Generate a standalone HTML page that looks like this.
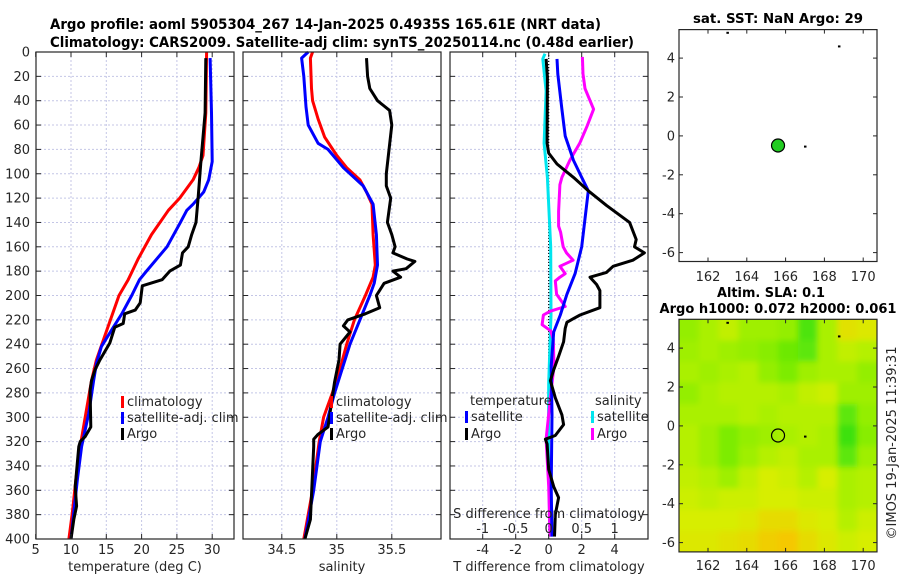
<!DOCTYPE html>
<html><head><meta charset="utf-8"><style>
body{margin:0;background:#fff;}
svg{display:block;font-family:"DejaVu Sans","Liberation Sans",sans-serif;}
text{fill:#262626;}
</style></head><body>
<svg id="fig" width="900" height="580" viewBox="0 0 900 580" xmlns="http://www.w3.org/2000/svg">
<rect width="900" height="580" fill="#fff"/>
<text x="50" y="29" font-size="14" font-weight="bold" textLength="551" lengthAdjust="spacingAndGlyphs" style="fill:#000">Argo profile: aoml 5905304_267 14-Jan-2025 0.4935S 165.61E (NRT data)</text>
<text x="50" y="47" font-size="14" font-weight="bold" textLength="584" lengthAdjust="spacingAndGlyphs" style="fill:#000">Climatology: CARS2009. Satellite-adj clim: synTS_20250114.nc (0.48d earlier)</text>
<g id="layer"></g>
</svg>
<script>
// ---------- data ----------
const depthTicks=[0,20,40,60,80,100,120,140,160,180,200,220,240,260,280,300,320,340,360,380,400];
const tTicks=[5,10,15,20,25,30];
const sTicks=[34.5,35,35.5];
const dTTicks=[-4,-2,0,2,4];
const dSTicks=[-1,-0.5,0,0.5,1];
const dSTickLabels=["-1","-0.5","0","0.5","1"];
const lonTicks=[162,164,166,168,170];
const latTicks=[4,2,0,-2,-4,-6];

const climTDepth=[0,50,85,95,105,120,130,150,170,187,200,228,253,270,297,324,351,378,400];
const climTVal=[29.2,29.1,28.7,28.1,27.3,25.4,23.8,21.4,19.5,18.1,16.8,15.1,13.6,12.9,12.1,11.3,10.7,10.2,9.7];
const satTDepth=[5,50,90,105,115,125,130,140,160,180,187,200,215,228,242,256,270,297,324,351,378,400];
const satTVal=[29.7,29.9,30.0,29.5,28.8,27.3,26.4,25.5,23.6,20.7,19.7,18.6,17.2,15.8,14.3,13.6,13.2,12.5,11.5,10.9,10.4,10.0];
const argoTDepth=[5,50,90,120,140,150,160,165,175,180,187,192,206,212,215,223,226,239,253,261,270,278,308,316,320,324,357,373,384,400];
const argoTVal=[29.1,29.0,28.4,28.0,27.7,27.1,26.6,25.8,25.5,24.0,22.9,20.1,19.8,19.1,17.6,17.4,16.2,15.5,14.1,13.4,12.9,12.7,12.8,12.0,11.3,11.1,10.6,10.8,10.4,10.0];

const climSDepth=[0,5,30,40,55,70,85,95,105,115,125,150,175,185,200,220,240,260,280,300,320,340,360,380,400];
const climSVal=[34.78,34.76,34.77,34.78,34.83,34.89,35.0,35.09,35.21,35.27,35.32,35.33,35.35,35.33,35.26,35.16,35.09,35.03,34.96,34.88,34.84,34.81,34.78,34.74,34.70];
const satSDepth=[0,5,20,45,60,75,80,95,110,125,150,175,190,200,220,240,260,280,300,320,340,360,380,400];
const satSVal=[34.74,34.68,34.70,34.72,34.74,34.83,34.92,35.06,35.24,35.33,35.36,35.37,35.34,35.30,35.21,35.12,35.05,34.98,34.92,34.85,34.82,34.79,34.75,34.71];
const argoSDepth=[5,20,30,40,48,60,100,110,120,140,150,160,165,170,172,178,180,185,190,200,210,215,220,225,230,240,253,271,283,308,314,318,324,384,400];
const argoSVal=[35.27,35.28,35.30,35.37,35.48,35.50,35.45,35.45,35.49,35.46,35.50,35.53,35.51,35.64,35.71,35.63,35.51,35.58,35.43,35.36,35.39,35.26,35.10,35.06,35.12,35.03,35.02,34.98,34.96,34.92,34.83,34.79,34.79,34.76,34.71];

const argoDTDepth=[5.7,20.6,75,83,92,103,114,126,140,154,160,165,171,176,181,185,191,196,210,216,219,222,227,238,250,261,270,284,298,306,315,318,322,343,357,366,380,398];
const argoDTVal=[-0.16,-0.08,-0.1,0,0.5,1.5,2.4,3.5,4.9,5.3,5.2,5.8,5.1,3.9,3.5,2.5,2.9,3.1,3.1,1.9,1.5,1.1,1.0,0.9,0.6,0.3,0.1,0.4,0.8,0.9,0.4,-0.2,-0.1,0,0.3,0.6,0.4,0.35];
const satDTDepth=[5.7,18,47,69,89,103,114,137,160,182,199,216,230,258,298,357,398];
const satDTVal=[0.5,0.55,0.8,1.0,1.5,2.0,2.4,2.2,2.0,1.6,1.1,0.7,0.3,0.15,0.2,0.15,0.2];
const satDSDepth=[1.4,5.7,32,75,103,160,216,272,329,398];
const satDSVal=[-0.056,-0.09,-0.04,-0.07,-0.02,0.03,0.035,0,-0.005,0.02];
const argoDSDepth=[4,18,30,47,61,75,89,103,109,131,143,148,160,165,171,176,182,185,188,199,209,213,216,224,229,236,258,272,318,357,398];
const argoDSVal=[0.51,0.52,0.55,0.68,0.58,0.47,0.32,0.2,0.17,0.15,0.15,0.18,0.22,0.27,0.37,0.17,0.25,0.17,0.1,0.12,0.25,0.02,-0.08,-0.1,0.03,0.07,0.08,0.05,-0.04,0.0,0.02];

const argoLon=165.61, argoLat=-0.4935;
const slaGrid=[
[0.6,0.5,0.4,0.55,0.55,0.6,0.85,0.5,0.2,0.25],
[0.55,0.5,0.55,0.6,0.65,0.75,0.8,0.5,0.4,0.45],
[0.5,0.55,0.5,0.45,0.6,0.7,0.55,0.5,0.5,0.6],
[0.6,0.5,0.45,0.45,0.45,0.5,0.4,0.35,0.55,0.55],
[0.5,0.5,0.5,0.45,0.5,0.45,0.45,0.45,0.8,0.6],
[0.45,0.55,0.7,0.6,0.55,0.5,0.45,0.5,0.9,0.65],
[0.45,0.55,0.7,0.55,0.45,0.4,0.5,0.5,0.8,0.55],
[0.4,0.45,0.55,0.4,0.3,0.35,0.45,0.3,0.5,0.45],
[0.35,0.4,0.35,0.35,0.3,0.3,0.35,0.35,0.5,0.45],
[0.3,0.3,0.3,0.25,0.15,0.15,0.25,0.3,0.45,0.35],
[0.25,0.25,0.2,0.15,0.05,0.0,0.15,0.25,0.35,0.3]];

// ---------- helpers ----------
const NS="http://www.w3.org/2000/svg";
const layer=document.getElementById('layer');
function mk(tag,attrs,parent){const e=document.createElementNS(NS,tag);for(const k in attrs)e.setAttribute(k,attrs[k]);(parent||layer).appendChild(e);return e;}
const Y0=52,Y1=539;
const yD=d=>Y0+d*(Y1-Y0)/400;
const xT=t=>35.7+(t-5)*7.06;
const xS=s=>243.3+(s-34.15)*110;
const xDT=t=>548.7+t*16.5;
const xDS=s=>548.7+s*66;

function grid(px0,px1,xs,fx){
  const g=mk('g',{});
  
  
  depthTicks.forEach(d=>{mk('line',{x1:px0,x2:px1,y1:yD(d),y2:yD(d),stroke:'#c4c6e6','stroke-dasharray':'2,2','stroke-width':1},g);});
  xs.forEach(v=>{mk('line',{x1:fx(v),x2:fx(v),y1:Y0,y2:Y1,stroke:'#c4c6e6','stroke-dasharray':'2,2','stroke-width':1},g);});
}
function frame(px0,px1,xs,fx,name){
  const g=mk('g',{});
  
  
  depthTicks.forEach(d=>{
    mk('line',{x1:px0,x2:px0+5,y1:yD(d),y2:yD(d),stroke:'#262626'},g);
    mk('line',{x1:px1-5,x2:px1,y1:yD(d),y2:yD(d),stroke:'#262626'},g);
  });
  xs.forEach(v=>{
    mk('line',{x1:fx(v),x2:fx(v),y1:Y1-5,y2:Y1,stroke:'#262626'},g);
    mk('line',{x1:fx(v),x2:fx(v),y1:Y0,y2:Y0+5,stroke:'#262626'},g);
  });
  mk('rect',{x:px0,y:Y0,width:px1-px0,height:Y1-Y0,fill:'none',stroke:'#262626','stroke-width':1.2},g);
}
function series(depths,vals,fx,color,name,w){
  const pts=depths.map((d,i)=>fx(vals[i]).toFixed(1)+','+yD(d).toFixed(1)).join(' ');
  const p=mk('polyline',{points:pts,fill:'none',stroke:color,'stroke-width':w||3,'stroke-linejoin':'round'});
  
  
}
function txt(x,y,s,attrs,name){
  const t=mk('text',Object.assign({x:x,y:y,'font-size':13},attrs||{}));
  t.textContent=s;
  
  
  return t;
}

grid(36,234,tTicks.slice(1),xT);
grid(243,441,sTicks,xS);
grid(450,648,dTTicks,xDT);

const zl=mk('line',{x1:xDT(0),x2:xDT(0),y1:Y0,y2:Y1,stroke:'#000','stroke-dasharray':'1,2','stroke-width':1.2});



series(climTDepth,climTVal,xT,'#ff0000','temp-climatology-line');
series(satTDepth,satTVal,xT,'#0000ff','temp-satellite-line');
series(argoTDepth,argoTVal,xT,'#000000','temp-argo-line');
series(climSDepth,climSVal,xS,'#ff0000','sal-climatology-line');
series(satSDepth,satSVal,xS,'#0000ff','sal-satellite-line');
series(argoSDepth,argoSVal,xS,'#000000','sal-argo-line');
series(satDSDepth,satDSVal,xDS,'#00e5ee','sdiff-satellite-line');
series(argoDSDepth,argoDSVal,xDS,'#ff00ff','sdiff-argo-line');
series(satDTDepth,satDTVal,xDT,'#0000ff','tdiff-satellite-line');
series(argoDTDepth,argoDTVal,xDT,'#000000','tdiff-argo-line');

frame(36,234,tTicks,xT,'temperature-axes');
frame(243,441,sTicks,xS,'salinity-axes');
frame(450,648,dTTicks,xDT,'difference-axes');

depthTicks.forEach(d=>{txt(30,yD(d)+4.5,String(d),{'text-anchor':'end'},'depth-tick-label');});
tTicks.forEach(v=>{txt(xT(v),554,String(v),{'text-anchor':'middle'},'temp-tick-label');});
sTicks.forEach(v=>{txt(xS(v),554,String(v),{'text-anchor':'middle'},'sal-tick-label');});
dTTicks.forEach(v=>{txt(xDT(v),554,String(v),{'text-anchor':'middle'},'tdiff-tick-label');});
dSTicks.forEach((v,i)=>{txt(xDS(v),533,dSTickLabels[i],{'text-anchor':'middle'},'sdiff-tick-label');});
txt(135,571,'temperature (deg C)',{'text-anchor':'middle'},'temp-axis-title');
txt(342,571,'salinity',{'text-anchor':'middle'},'sal-axis-title');
txt(549,571,'T difference from climatology',{'text-anchor':'middle'},'tdiff-axis-title');
txt(549,518,'S difference from climatology',{'text-anchor':'middle'},'sdiff-axis-title');

function legItem(x,y,color,label,name){
  const r=mk('rect',{x:x,y:y-10,width:3,height:12,fill:color});
  
  
  txt(x+6,y,label,{},name);
}
legItem(121,406,'#ff0000','climatology','legend-climatology');
legItem(121,422,'#0000ff','satellite-adj. clim','legend-satellite-adj');
legItem(121,438,'#000000','Argo','legend-argo');
legItem(330,406,'#ff0000','climatology','legend-climatology-sal');
legItem(330,422,'#0000ff','satellite-adj. clim','legend-satellite-adj-sal');
legItem(330,438,'#000000','Argo','legend-argo-sal');
txt(470,405,'temperature',{},'legend-temperature-heading');
legItem(465,421,'#0000ff','satellite','legend-tdiff-satellite');
legItem(465,438,'#000000','Argo','legend-tdiff-argo');
txt(595,405,'salinity',{},'legend-salinity-heading');
legItem(591,421,'#00e5ee','satellite','legend-sdiff-satellite');
legItem(591,438,'#ff00ff','Argo','legend-sdiff-argo');

// ---------- maps ----------
const MX0=679,MX1=877;
const xLon=l=>708+(l-162)*19.4;
const yLatA=la=>135.9-la*19.45;
const yLatB=la=>425.9-la*19.45;
const defs=mk('defs',{});
const cp=mk('clipPath',{id:'mclip'},defs);mk('rect',{x:MX0,y:319.3,width:MX1-MX0,height:232.6},cp);
const flt=mk('filter',{id:'blur',x:'-10%',y:'-10%',width:'120%',height:'120%'},defs);mk('feGaussianBlur',{stdDeviation:3},flt);
function slaColor(v){
  const stops=[[0,[245,200,0]],[0.3,[215,238,0]],[0.5,[170,240,0]],[0.7,[125,236,0]],[1,[30,220,20]]];
  for(let i=1;i<stops.length;i++){if(v<=stops[i][0]){const a=stops[i-1],b=stops[i];const f=(v-a[0])/(b[0]-a[0]);return 'rgb('+a[1].map((c,k)=>Math.round(c+(b[1][k]-c)*f)).join(',')+')';}}
  return 'rgb(30,220,20)';
}
const hg=mk('g',{'clip-path':'url(#mclip)'});


const hgi=mk('g',{filter:'url(#blur)'},hg);
const nR=slaGrid.length,nC=slaGrid[0].length;
const cw=(MX1-MX0)/nC,ch=232.6/nR;
slaGrid.forEach((row,r)=>row.forEach((v,c)=>{
  const cell=mk('rect',{x:MX0+c*cw-(c==0?8:0),y:319.3+r*ch-(r==0?8:0),width:cw+1+(c==0||c==nC-1?8:0),height:ch+1+(r==0||r==nR-1?8:0),fill:slaColor(v)},hgi);
  
  
}));

function mapFrame(top,bot,yLat,labY,name){
  const g=mk('g',{});
  
  
  mk('rect',{x:MX0,y:top,width:MX1-MX0,height:bot-top,fill:'none',stroke:'#262626','stroke-width':1.2},g);
  lonTicks.forEach(l=>{
    mk('line',{x1:xLon(l),x2:xLon(l),y1:bot-4,y2:bot,stroke:'#262626'},g);
    mk('line',{x1:xLon(l),x2:xLon(l),y1:top,y2:top+4,stroke:'#262626'},g);
    txt(xLon(l),labY,String(l),{'text-anchor':'middle'},'lon-tick-label');
  });
  latTicks.forEach(la=>{
    mk('line',{x1:MX0,x2:MX0+4,y1:yLat(la),y2:yLat(la),stroke:'#262626'},g);
    mk('line',{x1:MX1-4,x2:MX1,y1:yLat(la),y2:yLat(la),stroke:'#262626'},g);
    txt(675,yLat(la)+4.5,String(la),{'text-anchor':'end'},'lat-tick-label');
  });
  [[163,5.3],[168.75,4.6],[167,-0.55]].forEach(p=>{mk('rect',{x:xLon(p[0])-1,y:yLat(p[1])-1,width:2.5,height:2,fill:'#000'},g);});
}
mapFrame(29.6,261.5,yLatA,281,'sst-map-axes');
mapFrame(319.3,551.9,yLatB,570,'sla-map-axes');
const m1=mk('circle',{cx:xLon(argoLon),cy:yLatA(argoLat),r:6.5,fill:'#22cc22',stroke:'#000','stroke-width':1.2});


const m2=mk('circle',{cx:xLon(argoLon),cy:yLatB(argoLat),r:6.5,fill:'none',stroke:'#000','stroke-width':1.2});


txt(778,23,'sat. SST: NaN Argo: 29',{'text-anchor':'middle','font-weight':'bold',textLength:170,lengthAdjust:'spacingAndGlyphs',style:'fill:#000'},'sst-map-title');
txt(771,297,'Altim. SLA: 0.1',{'text-anchor':'middle','font-weight':'bold',textLength:108,lengthAdjust:'spacingAndGlyphs',style:'fill:#000'},'sla-map-title');
txt(778,313,'Argo h1000: 0.072 h2000: 0.061',{'text-anchor':'middle','font-weight':'bold',textLength:237,lengthAdjust:'spacingAndGlyphs',style:'fill:#000'},'sla-map-subtitle');
txt(0,0,'©IMOS 19-Jan-2025 11:39:31',{'text-anchor':'middle',transform:'translate(896,443) rotate(-90)'},'copyright-stamp');
</script>
</body></html>
